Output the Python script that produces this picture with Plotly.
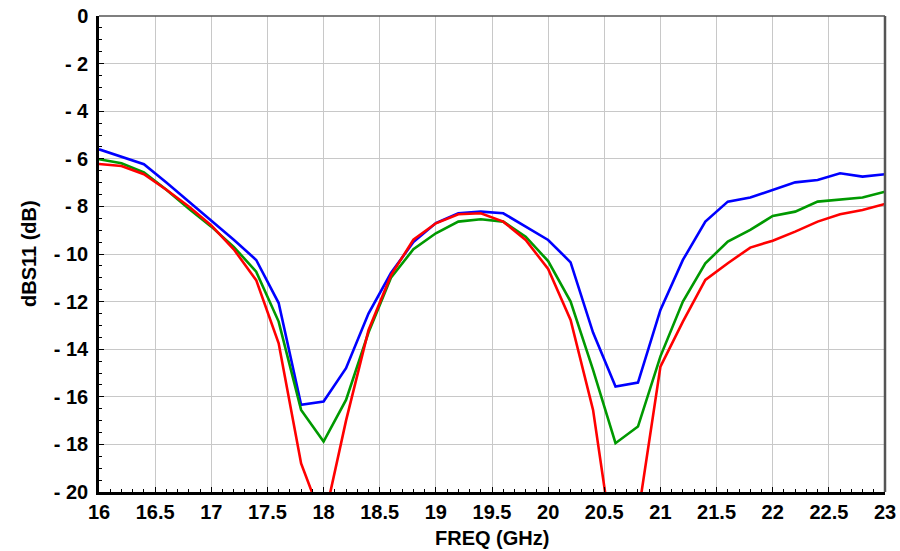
import plotly.graph_objects as go

freq = [16.0, 16.2, 16.4, 16.6, 16.8, 17.0, 17.2, 17.4, 17.6, 17.8, 18.0, 18.2, 18.4, 18.6, 18.8,
        19.0, 19.2, 19.4, 19.6, 19.8, 20.0, 20.2, 20.4, 20.6, 20.8, 21.0, 21.2, 21.4, 21.6, 21.8,
        22.0, 22.2, 22.4, 22.6, 22.8, 23.0]

blue = [-5.6, -5.9, -6.23, -7.0, -7.8, -8.57, -9.4, -10.25, -12.06, -16.34, -16.2, -14.8, -12.5, -10.8, -9.5,
        -8.7, -8.29, -8.22, -8.29, -8.85, -9.41, -10.35, -13.3, -15.57, -15.4, -12.35, -10.25, -8.64, -7.8, -7.63,
        -7.31, -6.99, -6.89, -6.61, -6.75, -6.65]

green = [-6.02, -6.19, -6.57, -7.3, -8.1, -8.85, -9.7, -10.74, -12.84, -16.55, -17.88, -16.13, -13.3, -11.0, -9.8,
         -9.13, -8.64, -8.54, -8.64, -9.27, -10.3, -12.0, -14.87, -17.95, -17.25, -14.3, -12.0, -10.39, -9.48, -8.99,
         -8.4, -8.22, -7.8, -7.73, -7.63, -7.38]

red = [-6.22, -6.3, -6.65, -7.3, -8.0, -8.8, -9.8, -11.1, -13.75, -18.8, -21.3, -17.0, -13.2, -10.9, -9.4,
       -8.71, -8.33, -8.29, -8.64, -9.41, -10.63, -12.77, -16.55, -23.0, -21.0, -14.73, -12.84, -11.09, -10.39, -9.73,
       -9.44, -9.06, -8.64, -8.33, -8.15, -7.9]

x_ticks = [16, 16.5, 17, 17.5, 18, 18.5, 19, 19.5, 20, 20.5, 21, 21.5, 22, 22.5, 23]
y_ticks = [0, -2, -4, -6, -8, -10, -12, -14, -16, -18, -20]
x_labels = ["<b>%g</b>" % v for v in x_ticks]
y_labels = ["<b>0</b>"] + ["<b>- %d</b>" % (-v) for v in y_ticks[1:]]

font = "Liberation Sans, Arial, sans-serif"

fig = go.Figure()
for ys, col in [(blue, "#0000FF"), (green, "#009900"), (red, "#FF0000")]:
    fig.add_trace(go.Scatter(x=freq, y=ys, mode="lines", line=dict(color=col, width=2.6),
                             showlegend=False, hoverinfo="skip"))

fig.update_layout(
    width=900, height=551,
    margin=dict(l=99, r=15, t=16, b=59),
    paper_bgcolor="white", plot_bgcolor="white",
    font=dict(family=font, size=20, color="black"),
)
fig.update_xaxes(
    range=[16, 23], tickvals=x_ticks, ticktext=x_labels, automargin=False,
    showgrid=True, gridcolor="#C8C8C8", gridwidth=1,
    showline=True, linecolor="black", linewidth=2.5,
    ticks="inside", ticklen=5, tickcolor="black", tickwidth=1,
    minor=dict(dtick=0.1, ticks="inside", ticklen=3, tickcolor="black", showgrid=False),
    tickfont=dict(family=font, size=20, color="black"),
    ticklabelstandoff=0,
    zeroline=False,
)
fig.update_yaxes(
    range=[-20, 0], tickvals=y_ticks, ticktext=y_labels, automargin=False,
    showgrid=True, gridcolor="#C8C8C8", gridwidth=1,
    showline=True, linecolor="black", linewidth=2.5,
    ticks="inside", ticklen=5, tickcolor="black", tickwidth=1,
    minor=dict(dtick=0.5, ticks="inside", ticklen=3, tickcolor="black", showgrid=False),
    tickfont=dict(family=font, size=20, color="black"),
    ticklabelstandoff=4,
    zeroline=False,
)
fig.add_shape(type="line", xref="paper", yref="paper", x0=0, y0=1, x1=1, y1=1,
              line=dict(color="#555555", width=1.5), layer="above")
fig.add_shape(type="line", xref="paper", yref="paper", x0=1, y0=0, x1=1, y1=1,
              line=dict(color="#555555", width=2.5), layer="above")
fig.add_annotation(text="<b>FREQ (GHz)</b>", xref="paper", yref="paper", x=0.5, y=0,
                   yshift=-46, xanchor="center", yanchor="middle", showarrow=False,
                   font=dict(family=font, size=20, color="black"))
fig.add_annotation(text="<b>dBS11 (dB)</b>", xref="paper", yref="paper", x=0, y=0.5,
                   xshift=-70, xanchor="center", yanchor="middle", textangle=-90, showarrow=False,
                   font=dict(family=font, size=20, color="black"))

fig.write_html("out.html")
